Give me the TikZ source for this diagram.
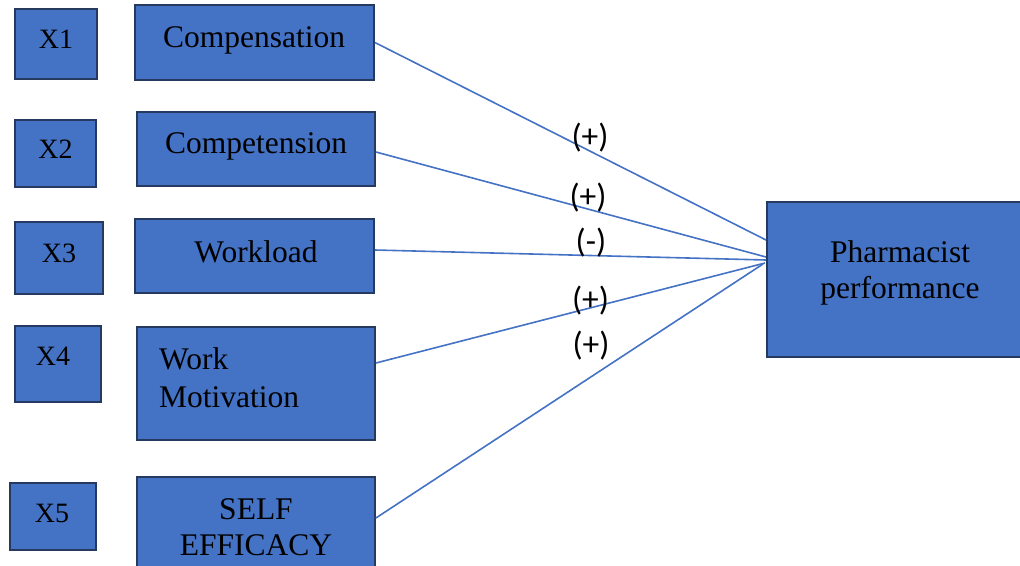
\documentclass[tikz,border=0pt]{standalone}
\usepackage{fontspec}
\setmainfont{Liberation Serif}
\newfontfamily\calibfont{Carlito}
\definecolor{boxfill}{HTML}{4472C4}
\definecolor{boxline}{RGB}{38,58,96}
\definecolor{linkcol}{HTML}{4472C4}
\begin{document}
\begin{tikzpicture}[x=1pt,y=-1pt,
  box/.style={draw=boxline, line width=1.8pt, fill=boxfill, rectangle, inner sep=0pt},
  txt/.style={anchor=base, inner sep=0pt, font=\fontsize{31.5}{36}\selectfont, text=black},
  xtxt/.style={anchor=base, inner sep=0pt, font=\fontsize{28}{32}\selectfont, text=black},
  sign/.style={inner sep=0pt, font=\calibfont\fontsize{33.5}{38}\selectfont, text=black},
  link/.style={draw=linkcol, line width=1.6pt}]
\useasboundingbox (0,0) rectangle (1020,565);
% boxes
\node[box, minimum width=82pt, minimum height=70pt] (x1) at (56,44) {};
\node[box, minimum width=239pt, minimum height=75pt] (comp) at (254.5,42.5) {};
\node[box, minimum width=81pt, minimum height=67pt] (x2) at (55.5,153.5) {};
\node[box, minimum width=238pt, minimum height=74pt] (compt) at (256,149) {};
\node[box, minimum width=88pt, minimum height=72pt] (x3) at (59,258) {};
\node[box, minimum width=239pt, minimum height=74pt] (work) at (254.5,256) {};
\node[box, minimum width=86pt, minimum height=76pt] (x4) at (58,364) {};
\node[box, minimum width=238pt, minimum height=113pt] (mot) at (256,383.5) {};
\node[box, minimum width=86pt, minimum height=67pt] (x5) at (53,516.5) {};
\node[box, minimum width=238pt, minimum height=98pt] (self) at (256,526) {};
\node[box, minimum width=273pt, minimum height=155pt] (perf) at (903.5,279.5) {};
% texts
\node[xtxt] (tx1) at (56,48) {X1};
\node[xtxt] (tx2) at (55.5,158) {X2};
\node[xtxt] (tx3) at (59,262) {X3};
\node[xtxt] (tx4) at (53,365) {X4};
\node[xtxt] (tx5) at (52,522) {X5};
\node[txt] (tcomp) at (254,47) {Compensation};
\node[txt] (tcompt) at (256,153) {Competension};
\node[txt] (twork) at (256,262) {Workload};
\node[txt, anchor=base west] (tmot1) at (159,369) {Work};
\node[txt, anchor=base west] (tmot2) at (159,407) {Motivation};
\node[txt] (tself1) at (256,519) {SELF};
\node[txt] (tself2) at (256,555) {EFFICACY};
\node[txt] (tperf1) at (900,262) {Pharmacist};
\node[txt] (tperf2) at (900,298) {performance};
% end points
\coordinate (e1) at (766,240);
\coordinate (e2) at (766,257);
\coordinate (e3) at (766,260);
\coordinate (e4) at (765,263);
\coordinate (e5) at (763,264);
% connectors
\draw[link] (comp.east) -- (e1);
\draw[link] ([yshift=-3pt]compt.east) -- (e2);
\draw[link] ([yshift=6pt]work.east) -- (e3);
\draw[link] ([yshift=20.5pt]mot.east) -- (e4);
\draw[link] ([yshift=8pt]self.east) -- (e5);
% signs
\node[sign] (s1) at (590,137.5) {(+)};
\node[sign] (s2) at (588,198) {(+)};
\node[sign] (s3) at (591,242.5) {(-)};
\node[sign] (s4) at (590.5,301) {(+)};
\node[sign] (s5) at (591,346) {(+)};
\end{tikzpicture}
\end{document}
